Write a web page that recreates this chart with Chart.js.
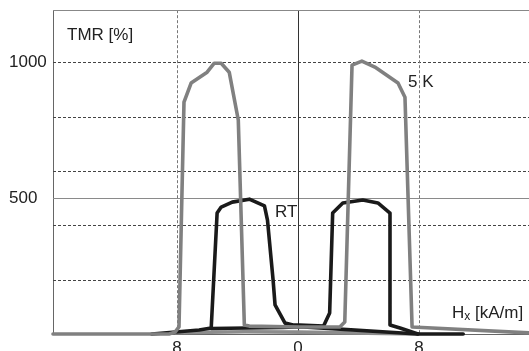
<!DOCTYPE html>
<html>
<head>
<meta charset="utf-8">
<script src="https://cdn.jsdelivr.net/npm/chart.js@4.4.1/dist/chart.umd.min.js"></script>
<style>
  html, body { margin: 0; padding: 0; background: #fff; overflow: hidden; }
  #wrap { position: relative; width: 529px; height: 370px; }
</style>
</head>
<body>
<div id="wrap"><canvas id="c"></canvas></div>
<script>
// 5 K loop (grey) - branch with both peaks, and the low return branch
const H_5K_A   = [-16.2, -8.53, -8.13, -7.87, -7.54, -7.07, -6.01, -5.54, -5.08, -4.55, -3.95, -3.55, -3.22, 0.1, 2.76, 3.09, 3.57, 4.22, 5.08, 6.61, 7.07, 7.54, 15.27];
const TMR_5K_A = [0, 0, 7, 26, 853, 923, 963, 996, 996, 963, 787, 33, 29, 26, 26, 44, 989, 1004, 982, 923, 871, 26, 4];
const H_5K_B   = [-8.1, -3.5, 0.1, 7.93];
const TMR_5K_B = [5, 8, 7, 0];

// RT loop (black)
const H_RT_A   = [-9.66, -6.54, -5.74, -5.35, -5.08, -4.35, -3.22, -2.22, -2.02, -1.65, -1.52, -0.86, -0.33, 0.1, 1.69, 2.09, 2.29, 2.96, 4.28, 5.28, 6.08, 6.08, 6.74, 7.93, 10.92];
const TMR_RT_A = [0, 15, 22, 445, 467, 485, 496, 471, 419, 199, 107, 40, 33, 33, 29, 77, 445, 482, 493, 482, 445, 33, 22, 0, 0];
const H_RT_B   = [-5.74, -1, 0.1, 7.93];
const TMR_RT_B = [20, 24, 27, 0];

// axes
const X_TICKS = [-8, 0, 8];
const X_TICK_LABELS = ['8', '0', '8'];
const Y_TICKS = [500, 1000];
const Y_TICK_LABELS = ['500', '1000'];
const Y_DASHED = [200, 400, 600, 800, 1000];
const Y_SOLID = [500];
const X_DASHED = [-8, 8];
const X_SOLID = [0];

const FONT = '"Liberation Sans", Arial, sans-serif';
const pts = (xs, ys) => xs.map((x, i) => ({ x, y: ys[i] }));

const line = (data, color, order) => ({
  data, borderColor: color, borderWidth: 3.6, showLine: true, pointRadius: 0,
  tension: 0, fill: false, clip: false, order,
  borderJoinStyle: 'round', borderCapStyle: 'round'
});

// grid + frame + in-plot labels
const decor = {
  id: 'decor',
  beforeDatasetsDraw(chart) {
    const { ctx, chartArea: a, scales: { x, y } } = chart;
    ctx.save();
    ctx.lineWidth = 1;
    const hline = (v, color, dash) => {
      const py = Math.round(y.getPixelForValue(v)) + 0.5;
      ctx.strokeStyle = color; ctx.setLineDash(dash);
      ctx.beginPath(); ctx.moveTo(a.left, py); ctx.lineTo(a.right, py); ctx.stroke();
    };
    const vline = (v, color, dash) => {
      const px = Math.round(x.getPixelForValue(v)) + 0.5;
      ctx.strokeStyle = color; ctx.setLineDash(dash);
      ctx.beginPath(); ctx.moveTo(px, a.top); ctx.lineTo(px, a.bottom); ctx.stroke();
    };
    Y_DASHED.forEach(v => hline(v, '#444', [3, 2]));
    Y_SOLID.forEach(v => hline(v, '#8a8a8a', []));
    X_DASHED.forEach(v => vline(v, '#777', [3, 2]));
    X_SOLID.forEach(v => vline(v, '#333', []));
    // top frame
    ctx.setLineDash([]);
    ctx.strokeStyle = '#888';
    ctx.beginPath(); ctx.moveTo(a.left, Math.round(a.top) + 0.5); ctx.lineTo(a.right, Math.round(a.top) + 0.5); ctx.stroke();
    ctx.restore();
  },
  afterDatasetsDraw(chart) {
    const { ctx, scales: { x, y } } = chart;
    ctx.save();
    ctx.fillStyle = '#222';
    ctx.textBaseline = 'middle';
    ctx.textAlign = 'left';
    ctx.font = '17px ' + FONT;
    ctx.fillText('TMR [%]', x.getPixelForValue(-15.27), y.getPixelForValue(1099));
    ctx.fillText('5 K', x.getPixelForValue(7.27), y.getPixelForValue(926));
    ctx.fillText('RT', x.getPixelForValue(-1.52), y.getPixelForValue(449));
    let px = x.getPixelForValue(10.18);
    const py = y.getPixelForValue(77);
    ctx.fillText('H', px, py);
    px += ctx.measureText('H').width;
    ctx.font = '12px ' + FONT;
    ctx.fillText('x', px, py + 4);
    px += ctx.measureText('x').width;
    ctx.font = '17px ' + FONT;
    ctx.fillText(' [kA/m]', px, py);
    ctx.restore();
  }
};

new Chart(document.getElementById('c'), {
  type: 'scatter',
  data: {
    datasets: [
      line(pts(H_5K_A, TMR_5K_A), '#808080', 0),
      line(pts(H_5K_B, TMR_5K_B), '#8c8c8c', 2),
      line(pts(H_RT_A, TMR_RT_A), '#1a1a1a', 1),
      line(pts(H_RT_B, TMR_RT_B), '#1a1a1a', 1)
    ]
  },
  options: {
    responsive: true, maintainAspectRatio: false, animation: false,
    layout: { padding: { left: 9, top: 10, right: 0, bottom: 0 } },
    plugins: { legend: { display: false }, tooltip: { enabled: false } },
    scales: {
      x: {
        type: 'linear', min: -16.2, max: 15.27,
        afterBuildTicks: s => { s.ticks = X_TICKS.map(v => ({ value: v })); },
        afterFit: s => { s.height = 36; },
        ticks: { callback: (v, i) => X_TICK_LABELS[i], font: { family: FONT, size: 17 }, color: '#222', padding: 4, maxRotation: 0, autoSkip: false },
        grid: { display: false, drawTicks: false },
        border: { display: true, color: '#666', width: 1 }
      },
      y: {
        min: 0, max: 1191,
        afterBuildTicks: s => { s.ticks = Y_TICKS.map(v => ({ value: v })); },
        afterFit: s => { s.width = 44; },
        ticks: { callback: (v, i) => Y_TICK_LABELS[i], font: { family: FONT, size: 17 }, color: '#222', crossAlign: 'far', padding: 0 },
        grid: { display: false, drawTicks: false },
        border: { display: true, color: '#666', width: 1 }
      }
    }
  },
  plugins: [decor]
});
</script>
</body>
</html>
